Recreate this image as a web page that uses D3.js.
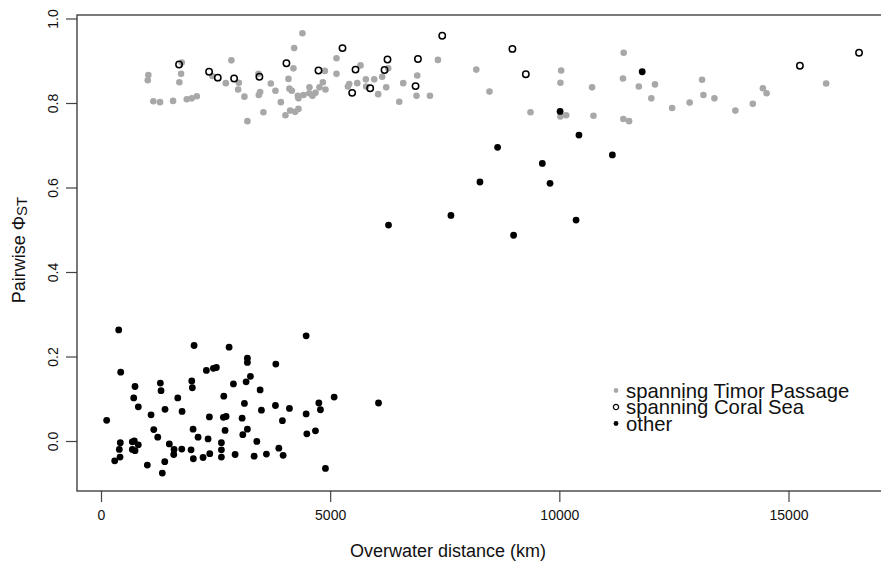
<!DOCTYPE html>
<html>
<head>
  <meta charset="UTF-8">
  <title>Pairwise PhiST vs overwater distance</title>
  <script src="https://d3js.org/d3.v7.min.js"></script>
  <style>
    body { margin: 0; background: white; }
    text { font-family: "Liberation Sans", Arial, sans-serif; fill: #111; }
    .tick line { stroke: #444; stroke-width: 1.2; }
    .tick text { font-size: 14px; }
  </style>
</head>
<body>
  <svg width="881" height="564"></svg>

  <script>
    // spanning Timor Passage (grey filled)
    const timorX = [1033, 1020, 1142, 1288, 1572, 1871, 1980, 2090, 1762, 1747, 1710, 2430, 2845, 2723, 3007, 2991,
      3129, 3194, 3435, 3472, 3443, 3544, 3705, 3806, 3924, 4024, 4090, 4111, 4164, 4199, 4214, 4236, 4295, 4395,
      4308, 4417, 4548, 4542, 4614, 4679, 4766, 4841, 4897, 4884, 4127, 4308, 5138, 5138, 5387, 5415, 5590, 5662,
      5779, 5786, 5961, 6048, 6135, 6266, 6223, 6507, 6594, 6900, 6884, 7177, 7351, 8188, 8476, 9371, 10039, 10024,
      10024, 10149, 10714, 10745, 11404, 11389, 11397, 11522, 11734, 12087, 12007, 12461, 12843, 13114, 13144,
      13384, 13841, 14221, 14441, 14522, 15821];
    const timorY = [0.866, 0.854, 0.804, 0.802, 0.805, 0.809, 0.811, 0.816, 0.896, 0.869, 0.849, 0.864, 0.901, 0.847,
      0.848, 0.832, 0.815, 0.757, 0.869, 0.826, 0.819, 0.778, 0.846, 0.829, 0.802, 0.771, 0.857, 0.834, 0.829, 0.882,
      0.930, 0.779, 0.817, 0.965, 0.811, 0.819, 0.837, 0.823, 0.817, 0.824, 0.837, 0.849, 0.832, 0.876, 0.782, 0.786,
      0.906, 0.869, 0.839, 0.845, 0.847, 0.889, 0.856, 0.839, 0.856, 0.821, 0.862, 0.882, 0.837, 0.803, 0.847, 0.865,
      0.817, 0.817, 0.902, 0.879, 0.827, 0.778, 0.877, 0.848, 0.768, 0.771, 0.837, 0.770, 0.919, 0.858, 0.762, 0.757,
      0.839, 0.844, 0.811, 0.788, 0.801, 0.855, 0.819, 0.811, 0.782, 0.798, 0.835, 0.823, 0.846];

    // spanning Coral Sea (open circles)
    const coralX = [1703, 2358, 2548, 2904, 3456, 4046, 4745, 5269, 5553, 5480, 5873, 6186, 6251, 6863, 6915, 7445,
      8976, 9269, 15249, 16539];
    const coralY = [0.891, 0.874, 0.860, 0.858, 0.862, 0.894, 0.877, 0.930, 0.879, 0.824, 0.835, 0.878, 0.903, 0.840,
      0.904, 0.959, 0.928, 0.868, 0.888, 0.919];

    // other (black filled)
    const otherX = [11808, 10017, 10428, 8653, 11157, 9629, 9797, 8268, 7635, 10365, 6273, 9002, 6055,
      386, 430, 124, 742, 714, 814, 1092, 1295, 1310, 1675, 1397, 1769, 2031, 1980, 1993, 2299, 2452, 2517, 2795,
      2889, 2679, 3194, 3194, 3166, 3260, 3472, 3814, 3129, 3500, 3806, 4111, 4476, 4476, 4753, 4788, 5087, 4491,
      4679, 3958, 4897, 2365, 2670, 2729, 3079, 1151, 1238, 2009, 2118, 2336, 2707, 3194, 3094, 3400, 421, 400, 415,
      299, 683, 727, 683, 742, 814, 1011, 1338, 1391, 1491, 1594, 1587, 1762, 1965, 2015, 2227, 2373, 2627, 2627,
      2627, 2926, 3341, 3609, 3880, 3974];
    const otherY = [0.874, 0.780, 0.724, 0.695, 0.677, 0.657, 0.610, 0.613, 0.534, 0.523, 0.511, 0.487, 0.090,
      0.263, 0.163, 0.049, 0.129, 0.102, 0.081, 0.062, 0.137, 0.119, 0.102, 0.075, 0.070, 0.226, 0.142, 0.126, 0.167,
      0.172, 0.174, 0.222, 0.135, 0.106, 0.196, 0.186, 0.140, 0.153, 0.121, 0.182, 0.089, 0.073, 0.084, 0.077, 0.249,
      0.064, 0.090, 0.074, 0.104, 0.017, 0.024, 0.048, -0.065, 0.057, 0.056, 0.058, 0.054, 0.027, 0.009, 0.028, 0.009,
      0.005, 0.025, 0.028, 0.015, -0.001, -0.004, -0.020, -0.038, -0.047, -0.002, 0.000, -0.020, -0.023, -0.009,
      -0.057, -0.076, -0.049, -0.007, -0.020, -0.032, -0.019, -0.021, -0.042, -0.039, -0.030, -0.004, -0.021, -0.038,
      -0.032, -0.036, -0.031, -0.017, -0.034];

    const xTicks = [0, 5000, 10000, 15000];
    const yTicks = [0, 0.2, 0.4, 0.6, 0.8, 1.0];
    const legendLabels = ["spanning Timor Passage", "spanning Coral Sea", "other"];

    const svg = d3.select("svg");
    const box = { left: 77, top: 15, right: 883, bottom: 491 };

    const x = d3.scaleLinear().domain([0, 15000]).range([101, 788.5]);
    const y = d3.scaleLinear().domain([0, 1]).range([441, 18.5]);

    // x axis
    const xAxis = svg.append("g")
      .attr("transform", `translate(0,${box.bottom})`)
      .call(d3.axisBottom(x).tickValues(xTicks).tickSize(11).tickSizeOuter(0).tickFormat(d3.format("d")));
    xAxis.select(".domain").remove();
    xAxis.selectAll(".tick text").attr("y", 24).attr("dy", "0.35em");

    // y axis, labels turned like R does
    const yAxis = svg.append("g")
      .attr("transform", `translate(${box.left},0)`)
      .call(d3.axisLeft(y).tickValues(yTicks).tickSize(11).tickSizeOuter(0).tickFormat(d3.format(".1f")));
    yAxis.select(".domain").remove();
    yAxis.selectAll(".tick text")
      .attr("x", null).attr("dy", null)
      .attr("text-anchor", "middle")
      .attr("transform", "translate(-24,0) rotate(-90)")
      .attr("y", 0).attr("dy", "0.35em");

    // plot frame
    svg.append("rect")
      .attr("x", box.left).attr("y", box.top)
      .attr("width", box.right - box.left).attr("height", box.bottom - box.top)
      .attr("fill", "none").attr("stroke", "#333").attr("stroke-width", 1.3);

    // points
    svg.append("g").selectAll("circle")
      .data(timorX.map((d, i) => [d, timorY[i]]))
      .join("circle")
      .attr("cx", d => x(d[0])).attr("cy", d => y(d[1]))
      .attr("r", 3.3).attr("fill", "#a8a8a8");

    svg.append("g").selectAll("circle")
      .data(coralX.map((d, i) => [d, coralY[i]]))
      .join("circle")
      .attr("cx", d => x(d[0])).attr("cy", d => y(d[1]))
      .attr("r", 3.2).attr("fill", "none").attr("stroke", "#000").attr("stroke-width", 1.5);

    svg.append("g").selectAll("circle")
      .data(otherX.map((d, i) => [d, otherY[i]]))
      .join("circle")
      .attr("cx", d => x(d[0])).attr("cy", d => y(d[1]))
      .attr("r", 3.4).attr("fill", "#000");

    // axis titles
    svg.append("text")
      .attr("x", 448).attr("y", 557)
      .attr("text-anchor", "middle")
      .style("font-size", "18px")
      .text("Overwater distance (km)");

    const yTitle = svg.append("text")
      .attr("transform", "translate(25,250) rotate(-90)")
      .attr("text-anchor", "middle")
      .style("font-size", "18px");
    yTitle.append("tspan").text("Pairwise \u03A6");
    yTitle.append("tspan").style("font-size", "15px").attr("dy", 2).text("ST");

    // legend
    const legend = svg.append("g").attr("transform", "translate(616,390.5)");
    const rows = legend.selectAll("g")
      .data(legendLabels)
      .join("g")
      .attr("transform", (d, i) => `translate(0,${i * 16.5})`);
    rows.append("circle")
      .attr("r", (d, i) => i === 1 ? 2.6 : 2.4)
      .attr("fill", (d, i) => i === 0 ? "#a8a8a8" : i === 1 ? "none" : "#000")
      .attr("stroke", (d, i) => i === 1 ? "#000" : "none")
      .attr("stroke-width", 1.3);
    rows.append("text")
      .attr("x", 10).attr("dy", "0.35em")
      .style("font-size", "20.3px")
      .text(d => d);
  </script>
</body>
</html>
